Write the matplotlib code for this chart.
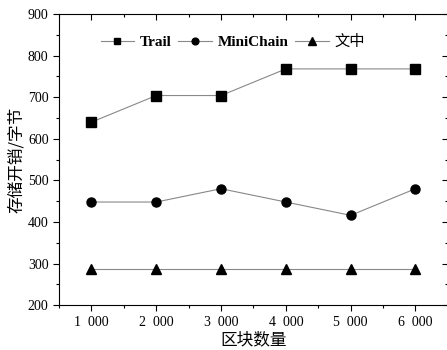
import matplotlib.pyplot as plt
from matplotlib.ticker import MultipleLocator

plt.rcParams['font.family'] = ['Liberation Serif', 'Noto Sans CJK SC']

blocks = [1000, 2000, 3000, 4000, 5000, 6000]
block_labels = ['1  000', '2  000', '3  000', '4  000', '5  000', '6  000']
trail = [640, 704, 704, 768, 768, 768]
minichain = [448, 448, 480, 448, 416, 480]
ours = [288, 288, 288, 288, 288, 288]

fig = plt.figure(figsize=(4.47, 3.5), dpi=100)
ax = fig.add_axes([0.132, 0.128, 0.87, 0.832])

line_kw = dict(color='#888888', lw=0.8, markerfacecolor='black', markeredgecolor='black')
ax.plot(blocks, trail, marker='s', ms=6.5, label='Trail', **line_kw)
ax.plot(blocks, minichain, marker='o', ms=6.5, label='MiniChain', **line_kw)
ax.plot(blocks, ours, marker='^', ms=7, label='文中', **line_kw)

ax.set_xlim(500, 6500)
ax.set_ylim(200, 900)
ax.set_xticks(blocks)
ax.set_xticklabels(block_labels, fontsize=10)
ax.xaxis.set_minor_locator(MultipleLocator(500))
ax.yaxis.set_major_locator(MultipleLocator(100))
ax.yaxis.set_minor_locator(MultipleLocator(50))
ax.tick_params(axis='y', labelsize=10)
ax.tick_params(which='major', length=4, width=0.8, direction='out')
ax.tick_params(which='minor', length=2, width=0.8, direction='out')
ax.tick_params(which='both', top=True, right=True)
# mirrored ticks on top and right point inward
for tl in ax.xaxis.get_ticklines(minor=False)[1::2] + ax.xaxis.get_ticklines(minor=True)[1::2]:
    tl.set_marker(3)
for tl in ax.yaxis.get_ticklines(minor=False)[1::2] + ax.yaxis.get_ticklines(minor=True)[1::2]:
    tl.set_marker(0)

ax.set_xlabel('区块数量', fontsize=12, family=['Noto Sans CJK SC'], labelpad=2)
ax.set_ylabel('存储开销/字节', fontsize=12, family=['Noto Sans CJK SC'], labelpad=2)

leg = ax.legend(loc='upper center', bbox_to_anchor=(0.447, 0.975), ncol=3, frameon=False,
                fontsize=11, handlelength=2.2, columnspacing=0.4, handletextpad=0.4,
                markerscale=0.75)
for t in leg.get_texts()[:2]:
    t.set_fontweight('bold')

fig.savefig('out.png', dpi=100)
